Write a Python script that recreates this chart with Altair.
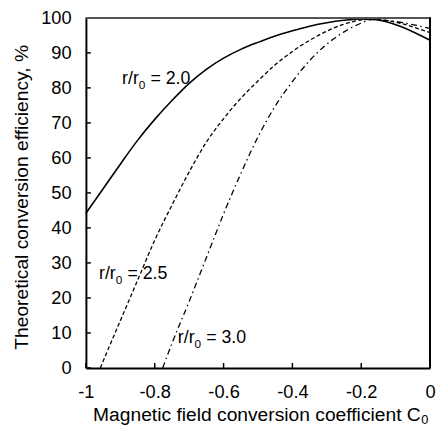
import altair as alt
import pandas as pd

# ---- data ----
c_20 = [-1.0, -0.95, -0.9, -0.85, -0.8, -0.75, -0.7, -0.65, -0.6, -0.55, -0.5, -0.45, -0.4, -0.35, -0.3, -0.25, -0.2, -0.17, 0.0]
v_20 = [44.2, 51.2, 58.2, 65.0, 71.0, 76.4, 81.3, 85.3, 88.5, 91.0, 93.0, 94.8, 96.3, 97.6, 98.6, 99.3, 99.7, 99.6, 93.6]

c_25 = [-0.958, -0.95, -0.9, -0.85, -0.8, -0.75, -0.7, -0.65, -0.6, -0.55, -0.5, -0.45, -0.4, -0.35, -0.3, -0.25, -0.2, -0.17, 0.0]
v_25 = [0.0, 1.9, 13.5, 25.0, 36.5, 46.5, 56.0, 64.5, 71.2, 77.0, 82.0, 86.6, 90.4, 93.6, 96.2, 98.2, 99.4, 99.6, 95.8]

c_30 = [-0.777, -0.75, -0.7, -0.65, -0.6, -0.55, -0.5, -0.45, -0.4, -0.35, -0.3, -0.25, -0.2, -0.17, 0.0]
v_30 = [0.0, 7.0, 19.0, 31.5, 44.0, 55.5, 66.0, 74.8, 81.8, 87.8, 92.5, 96.0, 98.5, 99.5, 97.0]

# curve labels: "r/r" + subscript "0" + "= value"
label_head = ["r/r", "r/r", "r/r"]
label_sub = ["0", "0", "0"]
label_tail = ["= 2.0", "= 2.5", "= 3.0"]
label_c = [-0.895, -0.962, -0.733]
label_v = [82.6, 26.7, 8.4]

x_ticks = [-1, -0.8, -0.6, -0.4, -0.2, 0]
y_ticks = [0, 10, 20, 30, 40, 50, 60, 70, 80, 90, 100]

x_title = "Magnetic field conversion coefficient C"
x_title_sub = "0"
y_title = "Theoretical conversion efficiency, %"

# ---- layout ----
W, H = 349, 355
FONT = "Liberation Sans, Arial, Helvetica, sans-serif"
TICK_FS = 18.5
TITLE_FS = 19.5
LABEL_FS = 18
X_TITLE_Y = 47

xs = alt.Scale(domain=[-1, 0], nice=False, zero=False)
ys = alt.Scale(domain=[0, 100], nice=False, zero=False)

x_axis = alt.Axis(values=x_ticks, labelExpr="toString(datum.value)", ticks=False,
                  grid=False, domainColor="black", domainWidth=2,
                  labelFont=FONT, labelFontSize=TICK_FS, labelColor="black", labelPadding=15,
                  labelFlush=False, labelOverlap=False,
                  title=x_title, titleFont=FONT, titleFontSize=TITLE_FS, titleFontWeight="normal",
                  titleColor="black", titleX=339, titleAlign="right", titleY=X_TITLE_Y,
                  titleBaseline="middle")
y_axis = alt.Axis(values=y_ticks, labelExpr="toString(datum.value)", ticks=False, grid=False,
                  domainColor="black", domainWidth=2,
                  labelFont=FONT, labelFontSize=TICK_FS, labelColor="black", labelPadding=15,
                  labelFlush=False, labelOverlap=False,
                  title=y_title, titleFont=FONT, titleFontSize=TITLE_FS, titleFontWeight="normal",
                  titleColor="black", titleX=-65, titleY=H / 2 + 4, titleAngle=-90,
                  titleBaseline="middle", titleAlign="center")


def X(field="c"):
    return alt.X(f"{field}:Q", scale=xs, axis=x_axis)


def Y(field="v"):
    return alt.Y(f"{field}:Q", scale=ys, axis=y_axis)


df20 = pd.DataFrame({"c": c_20, "v": v_20})
df25 = pd.DataFrame({"c": c_25, "v": v_25})
df30 = pd.DataFrame({"c": c_30, "v": v_30})
dfl = pd.DataFrame({"h": label_head, "s": label_sub, "t": label_tail, "c": label_c, "v": label_v})
dfx = pd.DataFrame({"c": x_ticks})
dfy = pd.DataFrame({"v": y_ticks})
dft = pd.DataFrame({"s": [x_title_sub]})

line20 = alt.Chart(df20).mark_line(color="black", strokeWidth=1.6, interpolate="monotone").encode(
    x=X(), y=Y())
line25 = alt.Chart(df25).mark_line(color="black", strokeWidth=1.3, strokeDash=[4, 2.5],
                                   interpolate="monotone").encode(x=X(), y=Y())
line30 = alt.Chart(df30).mark_line(color="black", strokeWidth=1.3, strokeDash=[6, 3.5, 1.5, 3.5],
                                   interpolate="monotone").encode(x=X(), y=Y())

head_w = 17.0   # width of "r/r" at LABEL_FS
sub_w = 6.8     # width of subscript "0"
lab_head = alt.Chart(dfl).mark_text(align="left", baseline="middle", font=FONT, fontSize=LABEL_FS,
                                    color="black").encode(x=X(), y=Y(), text="h:N")
lab_sub = alt.Chart(dfl).mark_text(align="left", baseline="middle", font=FONT, fontSize=12,
                                   color="black", dx=head_w, dy=6).encode(x=X(), y=Y(), text="s:N")
lab_tail = alt.Chart(dfl).mark_text(align="left", baseline="middle", font=FONT, fontSize=LABEL_FS,
                                    color="black", dx=head_w + sub_w + 5).encode(
    x=X(), y=Y(), text="t:N")

title_sub = alt.Chart(dft).mark_text(align="left", baseline="middle", font=FONT, fontSize=13,
                                     color="black").encode(
    x=alt.value(340), y=alt.value(H + X_TITLE_Y + 6), text="s:N")

xt = alt.Chart(dfx).mark_rule(color="black", strokeWidth=1.5).encode(
    x=X(), y=alt.value(H), y2=alt.value(H - 5))
yt = alt.Chart(dfy).mark_rule(color="black", strokeWidth=1.5).encode(
    y=Y(), x=alt.value(0), x2=alt.value(5))

top_border = alt.Chart(dfx).mark_rule(color="#555555", strokeWidth=2).encode(
    x=alt.value(0), x2=alt.value(W), y=alt.value(0))
right_border = alt.Chart(dfx).mark_rule(color="black", strokeWidth=1.8).encode(
    x=alt.value(W), y=alt.value(0), y2=alt.value(H))

chart = alt.layer(line20, line25, line30, lab_head, lab_sub, lab_tail, title_sub,
                  xt, yt, top_border, right_border).properties(
    width=W, height=H,
    autosize=alt.AutoSizeParams(type="none"),
    padding={"left": 79, "top": 7, "right": 6, "bottom": 66},
    background="white",
).configure_view(stroke=None)

chart.save("out.html", embed_options={"renderer": "svg", "actions": False})
